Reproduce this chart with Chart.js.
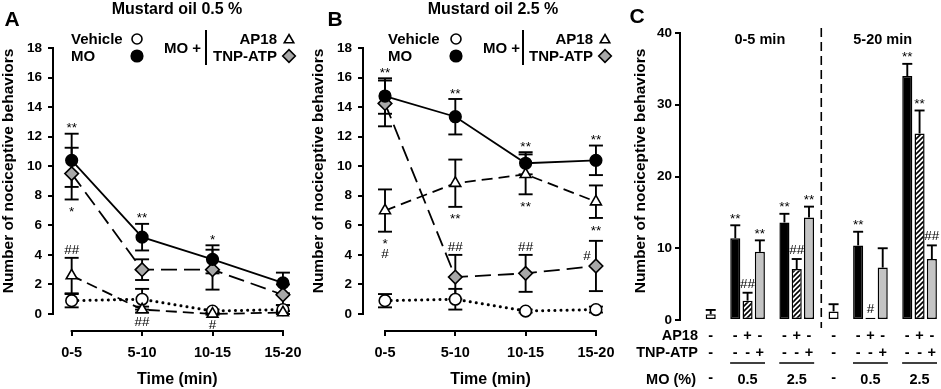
<!DOCTYPE html>
<html><head><meta charset="utf-8">
<script src="https://cdn.jsdelivr.net/npm/chart.js@4.4.1/dist/chart.umd.min.js"></script>
<style>
html,body{margin:0;padding:0;background:#fff;}
#wrap{position:relative;width:941px;height:389px;overflow:hidden;background:#fff;}
canvas{position:absolute;top:0;}
</style></head><body>
<div id="wrap">
<canvas id="chartA" width="310" height="389" style="left:0px"></canvas>
<canvas id="chartB" width="320" height="389" style="left:310px"></canvas>
<canvas id="chartC" width="311" height="389" style="left:630px"></canvas>
</div>
<script>
// ---------- data ----------
const timeLabels = ['0-5', '5-10', '10-15', '15-20'];
const yTicksAB = [0, 2, 4, 6, 8, 10, 12, 14, 16, 18];
const yTicksC = [0, 10, 20, 30, 40];

// Panel A : Mustard oil 0.5 %
const aVehicle = [0.9, 1.0, 0.2, 0.3];
const aVehicleErr = [0.45, 0.7, 0.1, 0.3];
const aMO = [10.4, 5.2, 3.7, 2.1];
const aMOErr = [1.8, 0.9, 0.95, 0.7];
const aAP18 = [2.6, 0.3, 0.0, 0.1];
const aAP18Err = [1.2, 0.2, 0.05, 0.1];
const aTNP = [9.5, 3.0, 3.0, 1.3];
const aTNPErr = [1.75, 0.7, 1.35, 0.7];
const aMOMarksAbove = ['**', '**', '*', ''];
const aTNPMarksBelow = ['*', '', '', ''];
const aAP18MarksAbove = ['##', '', '', ''];
const aAP18MarksBelow = ['', '##', '#', ''];

// Panel B : Mustard oil 2.5 %
const bVehicle = [0.9, 1.0, 0.2, 0.3];
const bVehicleErr = [0.45, 0.7, 0.1, 0.2];
const bMO = [14.75, 13.35, 10.2, 10.4];
const bMOErr = [1.2, 1.2, 0.75, 1.0];
const bAP18 = [7.0, 8.85, 9.45, 7.6];
const bAP18Err = [1.43, 1.6, 1.35, 1.1];
const bTNP = [14.25, 2.5, 2.75, 3.25];
const bTNPErr = [1.55, 1.5, 1.25, 1.7];
const bMOMarksAbove = ['**', '**', '**', '**'];
const bAP18MarksBelow = [['*', '#'], '**', '**', '**'];
const bTNPMarksAbove = ['', '##', '##', ''];
const bTNPMarksLeft = ['', '', '', '#'];

// Panel C : totals (order: 0-5 min 0.5 %, 0-5 min 2.5 %, 5-20 min 0.5 %, 5-20 min 2.5 %)
const cPeriods = ['0-5 min', '5-20 min'];
const cDoses = ['0.5', '2.5'];
const cVehicle = [0.8, 1.2];
const cVehicleErr = [0.6, 1.0];
const cMO = [11.4, 13.6, 10.4, 34.0];
const cMOErr = [1.8, 1.2, 1.9, 1.7];
const cAP18 = [2.7, 7.1, 0.3, 26.0];
const cAP18Err = [1.1, 1.4, 0, 3.2];
const cTNP = [9.5, 14.3, 7.3, 8.5];
const cTNPErr = [1.6, 1.5, 2.7, 1.9];
const cVehicleMarks = ['', ''];
const cMOMarks = ['**', '**', '**', '**'];
const cAP18Marks = ['##', '##', '#', '**'];
const cTNPMarks = ['**', '**', '', '##'];
const cSigns = { veh: ['-', '-'], MO: ['-', '-'], AP18: ['+', '-'], TNP: ['-', '+'] };

// ---------- helpers ----------
const FONT = "'Liberation Sans', Arial, Helvetica, sans-serif";
Chart.defaults.font.family = FONT;
Chart.defaults.color = '#000';

function txt(ctx, s, x, y, o) {
  ctx.save();
  ctx.font = (o.bold ? 'bold ' : '') + o.size + 'px ' + FONT;
  ctx.fillStyle = '#000';
  ctx.textAlign = o.align || 'center';
  ctx.textBaseline = o.baseline || 'middle';
  if (o.rotate) { ctx.translate(x, y); ctx.rotate(o.rotate); ctx.fillText(s, 0, 0); }
  else ctx.fillText(s, x, y);
  ctx.restore();
}
function line(ctx, x1, y1, x2, y2, w, dash) {
  ctx.save(); ctx.strokeStyle = '#000'; ctx.lineWidth = w; ctx.setLineDash(dash || []);
  ctx.beginPath(); ctx.moveTo(x1, y1); ctx.lineTo(x2, y2); ctx.stroke(); ctx.restore();
}
function marker(ctx, style, x, y, r, fill) {
  ctx.save(); ctx.fillStyle = fill; ctx.strokeStyle = '#000'; ctx.lineWidth = 1.6;
  Chart.helpers.drawPoint(ctx, { pointStyle: style, radius: r, rotation: 0, borderWidth: 1.6 }, x, y);
  ctx.restore();
}
function drawMark(ctx, text, x, cap, side) {
  if (!text) return;
  const lines = Array.isArray(text) ? text : [text];
  const n = lines.length;
  lines.forEach((s, i) => {
    let cx = x, c;
    if (side === 'above') c = cap - 9 - (n - 1 - i) * 12.5;
    else if (side === 'below') c = cap + 9 + i * 12.5;
    else { cx = x - 9; c = cap + 14 + i * 12.5; }
    const star = s.indexOf('*') >= 0;
    txt(ctx, s, cx, c + (star ? 7.6 : 4.8), { size: 13.5, baseline: 'alphabetic' });
  });
}

const STYLE = {
  Vehicle: { dash: [0.1, 6], width: 3, cap: 'round', point: 'circle', r: 5.8, fill: '#fff' },
  MO: { dash: [], width: 1.8, cap: 'butt', point: 'circle', r: 5.8, fill: '#000' },
  AP18: { dash: [11, 6], width: 1.8, cap: 'butt', point: 'triangle', r: 6.3, fill: '#fff' },
  TNP: { dash: [16, 7], width: 1.8, cap: 'butt', point: 'rectRot', r: 6.8, fill: '#a8a8a8' }
};

function lineDataset(label, vals, errs, st, marks) {
  return {
    label, data: vals.map((v, i) => ({ x: i, y: v })), errors: errs, marks: marks || {},
    borderColor: '#000', borderWidth: st.width, borderDash: st.dash, borderCapStyle: st.cap,
    pointStyle: st.point, pointRadius: st.r, pointBackgroundColor: st.fill,
    pointBorderColor: '#000', pointBorderWidth: 1.6, tension: 0, fill: false, clip: false
  };
}

function makeLinePanel(id, c) {
  const datasets = [
    lineDataset('MO', c.mo, c.moErr, STYLE.MO, { above: c.moAbove }),
    lineDataset('MO + TNP-ATP', c.tnp, c.tnpErr, STYLE.TNP, { above: c.tnpAbove, below: c.tnpBelow, left: c.tnpLeft }),
    lineDataset('MO + AP18', c.ap, c.apErr, STYLE.AP18, { above: c.apAbove, below: c.apBelow }),
    lineDataset('Vehicle', c.veh, c.vehErr, STYLE.Vehicle, {})
  ];
  const decor = {
    id: 'decor',
    beforeDatasetsDraw(chart) {
      const ctx = chart.ctx, ys = chart.scales.y;
      chart.data.datasets.forEach((ds, di) => {
        const meta = chart.getDatasetMeta(di);
        meta.data.forEach((pt, j) => {
          const v = ds.data[j].y, e = ds.errors[j];
          if (!e) return;
          const yt = ys.getPixelForValue(v + e), yb = ys.getPixelForValue(v - e);
          line(ctx, pt.x, yt, pt.x, yb, 1.9);
          line(ctx, pt.x - 7, yt, pt.x + 7, yt, 1.9);
          line(ctx, pt.x - 7, yb, pt.x + 7, yb, 1.9);
        });
      });
    },
    afterDraw(chart) {
      const ctx = chart.ctx, xs = chart.scales.x, ys = chart.scales.y, ca = chart.chartArea;
      // axis lines
      line(ctx, ca.left, ys.getPixelForValue(0) + 1, ca.left, ys.getPixelForValue(yTicksAB[yTicksAB.length - 1]) - 1, 2);
      line(ctx, xs.getPixelForValue(0) - 1, ca.bottom, xs.getPixelForValue(timeLabels.length - 1) + 1, ca.bottom, 2);
      // significance marks
      chart.data.datasets.forEach((ds, di) => {
        const meta = chart.getDatasetMeta(di);
        meta.data.forEach((pt, j) => {
          const v = ds.data[j].y, e = ds.errors[j] || 0;
          const top = ys.getPixelForValue(v + e), bot = ys.getPixelForValue(v - e);
          if (ds.marks.above) drawMark(ctx, ds.marks.above[j], pt.x, top, 'above');
          if (ds.marks.below) drawMark(ctx, ds.marks.below[j], pt.x, bot, 'below');
          if (ds.marks.left) drawMark(ctx, ds.marks.left[j], pt.x, top, 'left');
        });
      });
      // titles
      txt(ctx, c.letter, c.letterX, 20, { size: 21, bold: true });
      txt(ctx, c.title, c.titleX, 10, { size: 16, bold: true });
      txt(ctx, 'Time (min)', (xs.getPixelForValue(0) + xs.getPixelForValue(3)) / 2, 380, { size: 16, bold: true });
      txt(ctx, 'Number of nociceptive behaviors', 9, 171, { size: 15.5, bold: true, rotate: -Math.PI / 2 });
      // legend
      const L = c.legend;
      txt(ctx, 'Vehicle', L.x1, 40, { size: 15, bold: true, align: 'left' });
      marker(ctx, 'circle', L.m1, 39, 5, '#fff');
      txt(ctx, 'MO', L.x1, 57, { size: 15, bold: true, align: 'left' });
      marker(ctx, 'circle', L.m1, 56, 5.8, '#000');
      txt(ctx, 'MO +', L.x2, 49, { size: 15, bold: true, align: 'left' });
      line(ctx, L.bar, 30, L.bar, 65, 2);
      txt(ctx, 'AP18', L.r3, 40, { size: 15, bold: true, align: 'right' });
      marker(ctx, 'triangle', L.m3, 40, 5.5, '#fff');
      txt(ctx, 'TNP-ATP', L.r3, 57, { size: 15, bold: true, align: 'right' });
      marker(ctx, 'rectRot', L.m3, 56, 6.3, '#a8a8a8');
    }
  };
  return new Chart(document.getElementById(id), {
    type: 'line',
    data: { datasets },
    options: {
      responsive: false, animation: false, devicePixelRatio: 1,
      layout: { padding: { top: 48, right: c.padRight, left: 0, bottom: 0 } },
      plugins: { legend: { display: false }, tooltip: { enabled: false } },
      scales: {
        x: {
          type: 'linear', min: c.xmin, max: c.xmax,
          afterBuildTicks: s => { s.ticks = timeLabels.map((_, i) => ({ value: i })); },
          afterFit: s => { s.height = 58; },
          ticks: { callback: v => timeLabels[v], font: { size: 14.5, weight: 'bold' }, color: '#000', padding: 8, maxRotation: 0, autoSkip: false },
          grid: { drawOnChartArea: false, drawTicks: true, tickLength: 5, color: '#000', lineWidth: 2 },
          border: { display: false }
        },
        y: {
          min: -1.15, max: 18,
          afterBuildTicks: s => { s.ticks = yTicksAB.map(v => ({ value: v })); },
          afterFit: s => { s.width = 53; },
          ticks: { font: { size: 13.5, weight: 'bold' }, color: '#000', padding: 6 },
          grid: { drawOnChartArea: false, drawTicks: true, tickLength: 5, color: '#000', lineWidth: 2 },
          border: { display: false }
        }
      }
    },
    plugins: [decor]
  });
}

makeLinePanel('chartA', {
  veh: aVehicle, vehErr: aVehicleErr, mo: aMO, moErr: aMOErr, ap: aAP18, apErr: aAP18Err, tnp: aTNP, tnpErr: aTNPErr,
  moAbove: aMOMarksAbove, tnpBelow: aTNPMarksBelow, apAbove: aAP18MarksAbove, apBelow: aAP18MarksBelow,
  letter: 'A', letterX: 12, title: 'Mustard oil 0.5 %', titleX: 177,
  xmin: -0.265, xmax: 3.18, padRight: 10,
  legend: { x1: 71, m1: 137, x2: 164, bar: 206, r3: 277, m3: 289 }
});
makeLinePanel('chartB', {
  veh: bVehicle, vehErr: bVehicleErr, mo: bMO, moErr: bMOErr, ap: bAP18, apErr: bAP18Err, tnp: bTNP, tnpErr: bTNPErr,
  moAbove: bMOMarksAbove, tnpAbove: bTNPMarksAbove, tnpLeft: bTNPMarksLeft, apBelow: bAP18MarksBelow,
  letter: 'B', letterX: 25, title: 'Mustard oil 2.5 %', titleX: 183,
  xmin: -0.313, xmax: 3.2, padRight: 20,
  legend: { x1: 78, m1: 146, x2: 173, bar: 213, r3: 283, m3: 295 }
});

// ---------- Panel C ----------
function hatchPattern() {
  const cv = document.createElement('canvas'); cv.width = 5; cv.height = 5;
  const g = cv.getContext('2d');
  g.fillStyle = '#fff'; g.fillRect(0, 0, 5, 5);
  g.strokeStyle = '#000'; g.lineWidth = 1.6; g.beginPath();
  g.moveTo(-1, 6); g.lineTo(6, -1); g.moveTo(-1, 1); g.lineTo(1, -1); g.moveTo(4, 6); g.lineTo(6, 4);
  g.stroke();
  return g.createPattern(cv, 'repeat');
}

const slots = [{ kind: 'gap' }, { kind: 'gap' }];
cPeriods.forEach((per, p) => {
  if (p > 0) slots.push({ kind: 'divider' });
  slots.push({ kind: 'veh', p });
  cDoses.forEach((dose, d) => {
    slots.push({ kind: 'gap' });
    ['MO', 'AP18', 'TNP'].forEach(k => slots.push({ kind: k, p, d }));
  });
});
const barSeries = [
  { key: 'veh', label: 'Vehicle', vals: cVehicle, errs: cVehicleErr, marks: cVehicleMarks, bg: '#fff' },
  { key: 'MO', label: 'MO', vals: cMO, errs: cMOErr, marks: cMOMarks, bg: '#000' },
  { key: 'AP18', label: 'MO + AP18', vals: cAP18, errs: cAP18Err, marks: cAP18Marks, bg: hatchPattern() },
  { key: 'TNP', label: 'MO + TNP-ATP', vals: cTNP, errs: cTNPErr, marks: cTNPMarks, bg: '#c4c4c4' }
];
const pick = (s, arr, sl) => sl.kind === s.key ? arr[s.key === 'veh' ? sl.p : sl.p * 2 + sl.d] : null;
const cDatasets = barSeries.map(s => ({
  label: s.label,
  data: slots.map(sl => pick(s, s.vals, sl)),
  errors: slots.map(sl => pick(s, s.errs, sl)),
  marks: slots.map(sl => pick(s, s.marks, sl)),
  backgroundColor: s.bg, borderColor: '#000', borderWidth: 1.5, borderSkipped: false,
  grouped: false, categoryPercentage: 1, barPercentage: 0.82
}));

const decorC = {
  id: 'decorC',
  afterDatasetsDraw(chart) {
    const ctx = chart.ctx, ys = chart.scales.y;
    chart.data.datasets.forEach((ds, di) => {
      const meta = chart.getDatasetMeta(di);
      meta.data.forEach((bar, j) => {
        const v = ds.data[j];
        if (v === null) return;
        const e = ds.errors[j] || 0;
        const yt = ys.getPixelForValue(v + e);
        if (e > 0) {
          line(ctx, bar.x, ys.getPixelForValue(v), bar.x, yt, 1.9);
          line(ctx, bar.x - 5, yt, bar.x + 5, yt, 1.9);
        }
        drawMark(ctx, ds.marks[j], bar.x, yt - 1, 'above');
      });
    });
  },
  afterDraw(chart) {
    const ctx = chart.ctx, xs = chart.scales.x, ys = chart.scales.y, ca = chart.chartArea;
    line(ctx, ca.left, ys.getPixelForValue(0) + 1, ca.left, ys.getPixelForValue(yTicksC[yTicksC.length - 1]) - 1, 2);
    txt(ctx, 'C', 7, 17, { size: 21, bold: true });
    txt(ctx, 'Number of nociceptive behaviors', 11, 171, { size: 15.5, bold: true, rotate: -Math.PI / 2 });
    // divider & period titles
    slots.forEach((sl, i) => {
      if (sl.kind === 'divider') { const x = xs.getPixelForValue(i); line(ctx, x, 28, x, 328, 1.6, [9, 5]); }
    });
    cPeriods.forEach((per, p) => {
      const idx = slots.map((sl, i) => sl.p === p ? i : -1).filter(i => i >= 0);
      const x = (xs.getPixelForValue(idx[0]) + xs.getPixelForValue(idx[idx.length - 1])) / 2;
      txt(ctx, per, x, 40, { size: 14.5, bold: true });
    });
    // label rows
    const hx = 68;
    txt(ctx, 'AP18', hx, 336, { size: 14.5, bold: true, align: 'right' });
    txt(ctx, 'TNP-ATP', hx, 353, { size: 14.5, bold: true, align: 'right' });
    txt(ctx, 'MO (%)', hx - 2, 380, { size: 14.5, bold: true, align: 'right' });
    slots.forEach((sl, i) => {
      const sg = cSigns[sl.kind];
      if (!sg) return;
      const x = xs.getPixelForValue(i);
      txt(ctx, sg[0], x, 336, { size: 14.5, bold: true });
      txt(ctx, sg[1], x, 353, { size: 14.5, bold: true });
      if (sl.kind === 'veh') txt(ctx, '-', x, 378, { size: 14.5, bold: true });
      if (sl.kind === 'AP18') txt(ctx, cDoses[sl.d], x, 380, { size: 14.5, bold: true });
    });
    const bw = xs.getPixelForValue(1) - xs.getPixelForValue(0);
    slots.forEach((sl, i) => {
      if (sl.kind === 'MO') line(ctx, xs.getPixelForValue(i) - bw * 0.42, 363, xs.getPixelForValue(i + 2) + bw * 0.42, 363, 1.5);
    });
  }
};

new Chart(document.getElementById('chartC'), {
  type: 'bar',
  data: { labels: slots.map((s, i) => String(i)), datasets: cDatasets },
  options: {
    responsive: false, animation: false, devicePixelRatio: 1,
    layout: { padding: { top: 33, right: 3, left: 0, bottom: 0 } },
    plugins: { legend: { display: false }, tooltip: { enabled: false } },
    scales: {
      x: {
        afterFit: s => { s.height = 69; },
        ticks: { display: false },
        grid: { display: false, drawTicks: false },
        border: { display: false }
      },
      y: {
        min: 0, max: 40,
        afterBuildTicks: s => { s.ticks = yTicksC.map(v => ({ value: v })); },
        afterFit: s => { s.width = 50; },
        ticks: { font: { size: 13.5, weight: 'bold' }, color: '#000', padding: 3 },
        grid: { drawOnChartArea: false, drawTicks: true, tickLength: 5, color: '#000', lineWidth: 2 },
        border: { display: false }
      }
    }
  },
  plugins: [decorC]
});
</script>
</body></html>
